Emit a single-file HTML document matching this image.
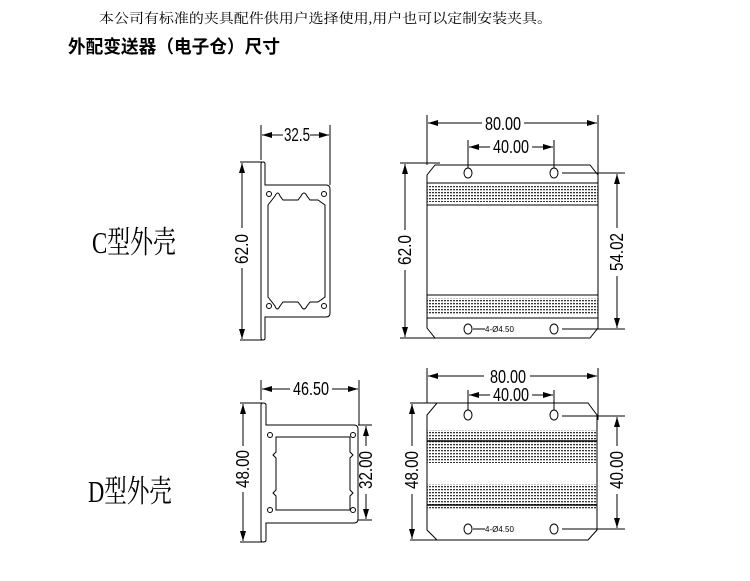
<!DOCTYPE html>
<html><head><meta charset="utf-8"><style>
html,body{margin:0;padding:0;background:#fff;}
svg{display:block;}
.t{font-family:"Liberation Sans","Noto Sans CJK SC",sans-serif;}
</style></head><body>
<svg width="750" height="581" viewBox="0 0 750 581" xmlns="http://www.w3.org/2000/svg">
<defs>
<marker id="a" viewBox="0 0 10 6" refX="10" refY="3" markerWidth="10" markerHeight="6" markerUnits="userSpaceOnUse" orient="auto-start-reverse"><path d="M0,0L10,3L0,6z" fill="#000"/></marker>
<pattern id="st" width="3" height="3" patternUnits="userSpaceOnUse"><rect width="2" height="1.3" fill="#333"/></pattern>
</defs>
<text x="99" y="23" font-family="'Liberation Serif','Noto Serif CJK SC',serif" font-size="13.7" textLength="453" lengthAdjust="spacingAndGlyphs">本公司有标准的夹具配件供用户选择使用,用户也可以定制安装夹具。</text>
<text x="68" y="53" class="t" font-size="18" font-weight="bold" textLength="212" lengthAdjust="spacingAndGlyphs">外配变送器（电子仓）尺寸</text>
<text x="92" y="253" font-family="'Liberation Serif','Noto Serif CJK SC',serif" font-size="31" textLength="84" lengthAdjust="spacingAndGlyphs">C型外壳</text>
<text x="88" y="502" font-family="'Liberation Serif','Noto Serif CJK SC',serif" font-size="31" textLength="84" lengthAdjust="spacingAndGlyphs">D型外壳</text>

<g fill="none" stroke="#000" stroke-width="1">
<path d="M261,164 Q261,162 263,162 Q265,162 265,164 L265,185 L326,185 Q330,185 330,189 L330,313 Q330,317 326,317 L265,317 L265,338 Q265,340 263,340 Q261,340 261,338 Z"/>
<path d="M268,205 L275,196 Q278,190 280,196 L283,200 L298,200 L301,196 Q304,190 307,196 L310,200 L318,200 L325,205 L325,297 L318,302 L310,302 L307,306 Q304,312 301,306 L298,302 L283,302 L280,306 Q277,312 275,306 L268,297 Z"/>
<circle cx="269" cy="194" r="2.5"/><circle cx="324" cy="194" r="2.5"/><circle cx="269" cy="306" r="2.5"/><circle cx="324" cy="306" r="2.5"/>
<path d="M261,125V160M330,125V185M240,162H262M240,340H262"/>
<path d="M262,135H283M310,135H329" marker-end="url(#a)" marker-start="url(#a)"/>
<path d="M242,163V228M242,268V339" marker-start="url(#a)" marker-end="url(#a)"/>
<path d="M435,165 L590,165 L598,175 L598,328 L590,338 L435,338 L427,328 L427,175 Z"/>
<ellipse cx="468" cy="173" rx="4" ry="5"/><ellipse cx="554" cy="173" rx="4" ry="5"/>
<ellipse cx="468" cy="329" rx="4" ry="5"/><ellipse cx="554" cy="329" rx="4" ry="5"/>
<path d="M427,183H598M427,205H598M427,295H598M427,318H598"/>
<path d="M427,115V165M598,115V180M468,140V168M554,140V168M400,163H440M400,338H440M562,173H625M562,329H625M473,329H485"/>
<path d="M428,123H482M524,123H597" marker-start="url(#a)" marker-end="url(#a)"/>
<path d="M469,147H490M532,147H553" marker-start="url(#a)" marker-end="url(#a)"/>
<path d="M405,164V230M405,270V337" marker-start="url(#a)" marker-end="url(#a)"/>
<path d="M617,174V228M617,276V328" marker-start="url(#a)" marker-end="url(#a)"/>
<path d="M261,405 Q261,403 263,403 Q266,403 266,405 L266,425 L354,425 Q358,425 358,429 L358,519 Q358,523 354,523 L266,523 L266,540 Q266,542 263,542 Q261,542 261,540 Z"/>
<path d="M276,437 L350,437 L350,452 L353,455 L350,458 L350,490 L353,493 L350,496 L350,510 L276,510 L276,496 L273,493 L276,490 L276,458 L273,455 L276,452 Z"/>
<circle cx="270" cy="435" r="2.5"/><circle cx="353" cy="435" r="2.5"/><circle cx="270" cy="510" r="2.5"/><circle cx="353" cy="510" r="2.5"/>
<path d="M261,380V400M359,380V425M240,403H262M240,542H262M358,425H372M358,520H372"/>
<path d="M262,389H290M332,389H358" marker-start="url(#a)" marker-end="url(#a)"/>
<path d="M243,404V446M243,492V541" marker-start="url(#a)" marker-end="url(#a)"/>
<path d="M366,426V446M366,494V519" marker-start="url(#a)" marker-end="url(#a)"/>
<path d="M437,403 L588,403 L597,415 L597,530 L588,540 L437,540 L427,530 L427,415 Z"/>
<ellipse cx="468" cy="415" rx="4" ry="5"/><ellipse cx="554" cy="415" rx="4" ry="5"/>
<ellipse cx="468" cy="529" rx="4" ry="5"/><ellipse cx="554" cy="529" rx="4" ry="5"/>
<path d="M427,368V403M598,368V420M468,390V410M554,390V410M410,403H440M410,540H440M562,416H625M562,529H625M473,529H485"/>
<path d="M428,376H484M530,376H597" marker-start="url(#a)" marker-end="url(#a)"/>
<path d="M469,395H490M532,395H553" marker-start="url(#a)" marker-end="url(#a)"/>
<path d="M412,404V446M412,494V539" marker-start="url(#a)" marker-end="url(#a)"/>
<path d="M617,417V446M617,494V528" marker-start="url(#a)" marker-end="url(#a)"/>
</g>
<rect x="427" y="186" width="171" height="16" fill="url(#st)"/>
<rect x="427" y="298" width="171" height="17" fill="url(#st)"/>
<rect x="427" y="430" width="170" height="16" fill="url(#st)"/>
<rect x="427" y="447" width="170" height="16" fill="url(#st)"/>
<rect x="427" y="484" width="170" height="26" fill="url(#st)"/>
<path d="M427,441H597M427,505H597" stroke="#000" stroke-width="1.5"/>
<g class="t" font-size="18" text-anchor="middle">
<text x="297" y="141" textLength="26" lengthAdjust="spacingAndGlyphs">32.5</text>
<text x="503" y="130" textLength="36" lengthAdjust="spacingAndGlyphs">80.00</text>
<text x="511" y="153" textLength="36" lengthAdjust="spacingAndGlyphs">40.00</text>
<text x="311" y="395" textLength="36" lengthAdjust="spacingAndGlyphs">46.50</text>
<text x="508" y="383" textLength="36" lengthAdjust="spacingAndGlyphs">80.00</text>
<text x="511" y="401" textLength="36" lengthAdjust="spacingAndGlyphs">40.00</text>
<text transform="translate(248,249) rotate(-90)" textLength="30" lengthAdjust="spacingAndGlyphs">62.0</text>
<text transform="translate(411,250) rotate(-90)" textLength="30" lengthAdjust="spacingAndGlyphs">62.0</text>
<text transform="translate(623,252) rotate(-90)" textLength="38" lengthAdjust="spacingAndGlyphs">54.02</text>
<text transform="translate(249,469) rotate(-90)" textLength="38" lengthAdjust="spacingAndGlyphs">48.00</text>
<text transform="translate(372,470) rotate(-90)" textLength="38" lengthAdjust="spacingAndGlyphs">32.00</text>
<text transform="translate(418,470) rotate(-90)" textLength="38" lengthAdjust="spacingAndGlyphs">48.00</text>
<text transform="translate(623,470) rotate(-90)" textLength="38" lengthAdjust="spacingAndGlyphs">40.00</text>
</g>
<text x="485" y="332" class="t" font-size="8">4-Ø4.50</text>
<text x="485" y="532" class="t" font-size="8">4-Ø4.50</text>
</svg>
</body></html>
